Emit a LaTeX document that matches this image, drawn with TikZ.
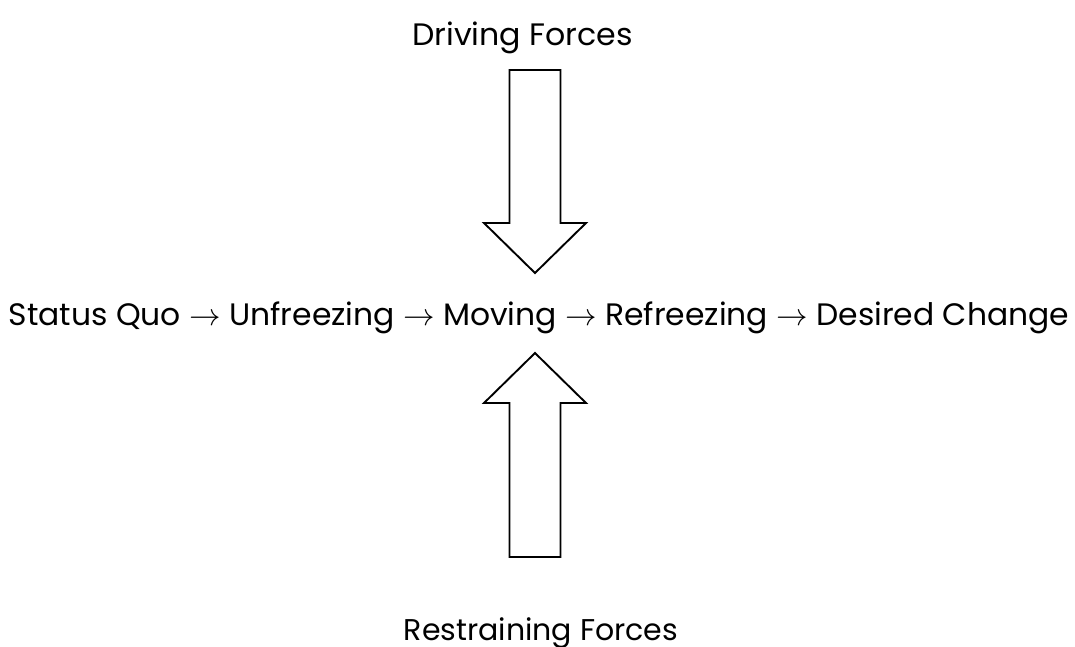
\documentclass[tikz,border=0pt]{standalone}
\usepackage{fontspec}
\setmainfont{Poppins}
\newcommand{\flowarrow}{\scalebox{1.25}{$\rightarrow$}}
\begin{document}
\begin{tikzpicture}[x=1pt,y=-1pt,
  lbl/.style={inner sep=0pt,anchor=base},
  bigarrow/.style={draw=black,line width=1.9pt,fill=white,line join=miter}]
\useasboundingbox (0,0) rectangle (1075,646);
\node[lbl,font=\fontsize{31}{36}\selectfont] (drive) at (522.5,45) {\scalebox{1.02}[1]{Driving Forces}};
\node[lbl,font=\fontsize{31}{36}\selectfont] (main) at (539,325) {\scalebox{1.013}[1]{Status Quo \flowarrow{} Unfreezing \flowarrow{} Moving \flowarrow{} Refreezing \flowarrow{} Desired Change}};
\node[lbl,font=\fontsize{30}{36}\selectfont] (restr) at (541,640) {Restraining Forces};
\draw[bigarrow] (509.5,70) -- (560.5,70) -- (560.5,223) -- (586,223) -- (535,273) -- (484,223) -- (509.5,223) -- cycle;
\draw[bigarrow] (509.5,557) -- (560.5,557) -- (560.5,403) -- (586,403) -- (535,353) -- (484,403) -- (509.5,403) -- cycle;
\end{tikzpicture}
\end{document}
